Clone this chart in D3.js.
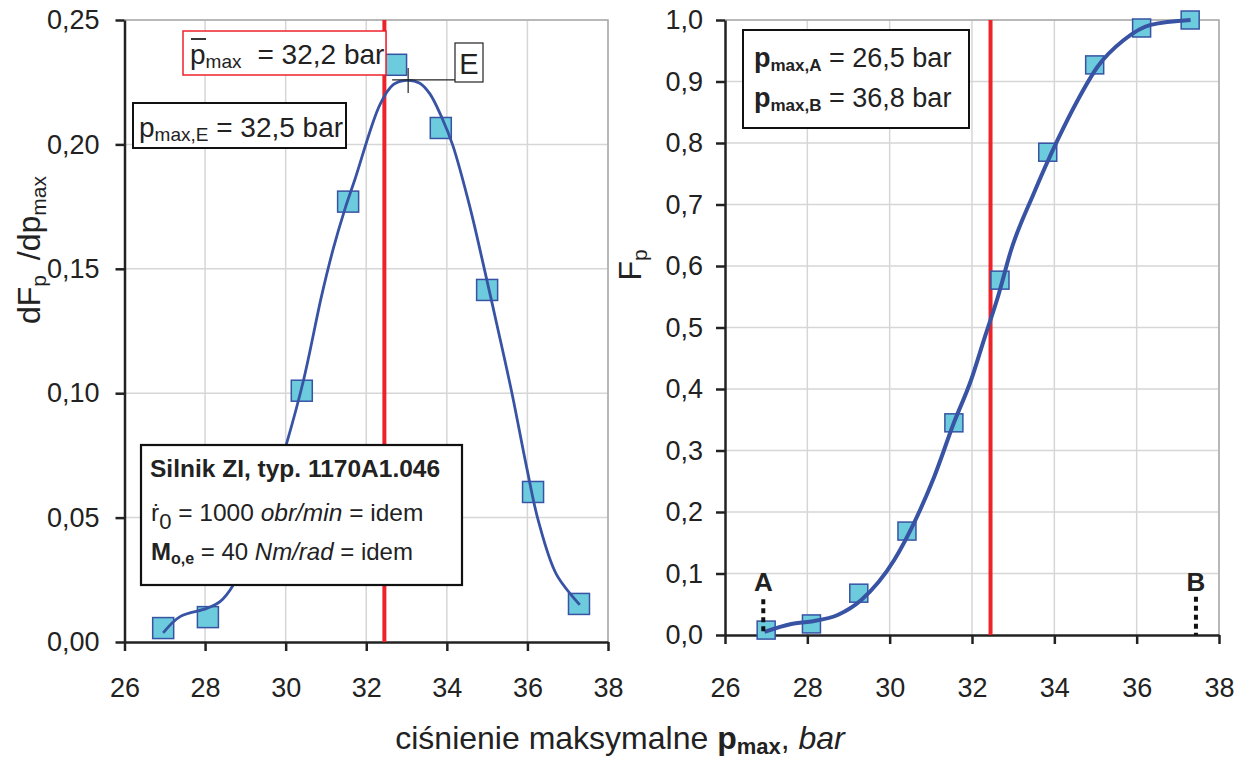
<!DOCTYPE html>
<html>
<head>
<meta charset="utf-8">
<script src="https://cdn.jsdelivr.net/npm/d3@7"></script>
<style>
  body { margin: 0; background: #fff; }
  svg { display: block; font-family: "Liberation Sans", Arial, sans-serif; }
  .axis path, .axis line { stroke: #222; stroke-width: 2.5; }
  .axis text { font-size: 27px; fill: #222; font-family: "Liberation Sans", Arial, sans-serif; }
  .grid line { stroke: #d6d6d6; stroke-width: 1.5; }
</style>
</head>
<body>
<svg id="chart" width="1248" height="760"></svg>
<script>
// measured points, left panel (density)
const pDens = [26.96, 28.07, 29.25, 30.4, 31.55, 32.74, 33.85, 35.0, 36.14, 37.28];
const dens = [0.0056, 0.010, 0.042, 0.101, 0.177, 0.232, 0.2066, 0.1415, 0.0603, 0.0153];

// fitted density curve
const pDensFit = [26.96, 27.38, 28.04, 28.37, 28.70, 29.3, 29.7, 30.0, 30.44, 30.89, 31.18, 31.47, 31.72, 32.34, 32.67, 33.0, 33.33, 33.58, 33.87, 34.15, 34.57, 34.86, 35.24, 35.61, 35.98, 36.27, 36.72, 37.3];
const densFit = [0.0037, 0.0102, 0.0135, 0.0162, 0.0229, 0.045, 0.063, 0.0785, 0.105, 0.139, 0.158, 0.174, 0.186, 0.216, 0.224, 0.2257, 0.2246, 0.2203, 0.211, 0.1995, 0.175, 0.155, 0.1277, 0.1005, 0.0703, 0.0488, 0.0272, 0.015];

// measured points, right panel (distribution)
const pCum = [27.0, 28.1, 29.25, 30.42, 31.56, 32.68, 33.84, 34.98, 36.12, 37.3];
const cum = [0.008, 0.018, 0.068, 0.169, 0.345, 0.577, 0.785, 0.927, 0.987, 1.0];

// fitted distribution curve
const pCumFit = [26.96, 27.61, 28.10, 28.75, 29.31, 30.11, 30.59, 31.08, 31.56, 31.98, 32.29, 32.63, 32.95, 33.50, 34.08, 34.57, 35.05, 35.68, 36.34, 37.31];
const cumFit = [0.005, 0.018, 0.022, 0.033, 0.057, 0.122, 0.182, 0.257, 0.345, 0.415, 0.480, 0.550, 0.626, 0.718, 0.805, 0.870, 0.924, 0.967, 0.992, 1.0];

const xTicks = [26, 28, 30, 32, 34, 36, 38];
const densTicks = [0, 0.05, 0.10, 0.15, 0.20, 0.25];
const cumTicks = [0, 0.1, 0.2, 0.3, 0.4, 0.5, 0.6, 0.7, 0.8, 0.9, 1.0];

const pMean = 32.45;     // red vertical line
const peakE = [33.04, 0.2259];
const pointA = 26.93, pointB = 37.44;

const svg = d3.select("#chart");
const blue = "#3853a4", fillSq = "#6ccbdc", red = "#ee2229";
const comma = f => d => d3.format(f)(d).replace(".", ",");

function panel(opts) {
  const x = d3.scaleLinear().domain([26, 38]).range(opts.xr);
  const y = d3.scaleLinear().domain(opts.yd).range(opts.yr);
  const g = svg.append("g");

  // grid
  const grid = g.append("g").attr("class", "grid");
  grid.selectAll(".gx").data(xTicks.slice(1)).enter().append("line")
    .attr("x1", d => x(d)).attr("x2", d => x(d))
    .attr("y1", y.range()[0]).attr("y2", y.range()[1]);
  grid.selectAll(".gy").data(opts.ticks.slice(1)).enter().append("line")
    .attr("x1", x.range()[0]).attr("x2", x.range()[1])
    .attr("y1", d => y(d)).attr("y2", d => y(d));
  g.append("path")
    .attr("d", `M${x(26)},${y(opts.yd[1])}H${x(38)}V${y(0)}`)
    .attr("fill", "none").attr("stroke", "#aaa").attr("stroke-width", 1.5);

  // axes
  g.append("g").attr("class", "axis")
    .attr("transform", `translate(0,${y(0)})`)
    .call(d3.axisBottom(x).tickValues(xTicks).tickSize(9).tickSizeOuter(0).tickPadding(opts.xpad));
  g.append("g").attr("class", "axis")
    .attr("transform", `translate(${x(26)},0)`)
    .call(d3.axisLeft(y).tickValues(opts.ticks).tickFormat(comma(opts.fmt)).tickSize(9).tickSizeOuter(0).tickPadding(opts.ypad));

  // red line
  g.append("line")
    .attr("x1", x(pMean)).attr("x2", x(pMean))
    .attr("y1", y(0)).attr("y2", y(opts.yd[1]))
    .attr("stroke", red).attr("stroke-width", 4);

  return { g, x, y };
}

// ---------- left panel ----------
const L = panel({ xr: [124.5, 608], yd: [0, 0.25], yr: [642, 20], ticks: densTicks, fmt: ".2f", xpad: 27, ypad: 16 });

L.g.selectAll(".sq").data(d3.zip(pDens, dens)).enter().append("rect")
  .attr("x", d => L.x(d[0]) - 10.5).attr("y", d => L.y(d[1]) - 10.5)
  .attr("width", 21).attr("height", 21)
  .attr("fill", fillSq).attr("stroke", blue).attr("stroke-width", 1.5);

L.g.append("path")
  .datum(d3.zip(pDensFit, densFit))
  .attr("fill", "none").attr("stroke", blue).attr("stroke-width", 2.8)
  .attr("d", d3.line().x(d => L.x(d[0])).y(d => L.y(d[1])).curve(d3.curveCatmullRom));

// E marker
const ex = L.x(peakE[0]), ey = L.y(peakE[1]);
L.g.append("line").attr("x1", ex - 16).attr("x2", 455).attr("y1", ey).attr("y2", ey).attr("stroke", "#222").attr("stroke-width", 1.2);
L.g.append("line").attr("x1", ex).attr("x2", ex).attr("y1", ey - 12).attr("y2", ey + 13).attr("stroke", "#222").attr("stroke-width", 1.2);
L.g.append("rect").attr("x", 455).attr("y", 43).attr("width", 28).attr("height", 39)
  .attr("fill", "#fff").attr("stroke", "#222").attr("stroke-width", 1.2);
L.g.append("text").attr("x", 469).attr("y", 74).attr("text-anchor", "middle")
  .attr("font-size", 29).attr("fill", "#222").text("E");

// mean box (red)
L.g.append("rect").attr("x", 183).attr("y", 31).attr("width", 203).attr("height", 44)
  .attr("fill", "#fff").attr("stroke", red).attr("stroke-width", 1.5);
const tm = L.g.append("text").attr("x", 190).attr("y", 64).attr("font-size", 28).attr("fill", "#222");
tm.append("tspan").text("p");
tm.append("tspan").attr("font-size", 19).attr("dy", 4).text("max");
tm.append("tspan").attr("dy", -4).attr("dx", 16).text("= 32,2 bar");
L.g.append("line").attr("x1", 191).attr("x2", 206).attr("y1", 39).attr("y2", 39).attr("stroke", "#222").attr("stroke-width", 1.8);

// pmax,E box
L.g.append("rect").attr("x", 133).attr("y", 103).attr("width", 213).attr("height", 45)
  .attr("fill", "#fff").attr("stroke", "#111").attr("stroke-width", 2);
const te = L.g.append("text").attr("x", 139).attr("y", 137).attr("font-size", 28).attr("fill", "#222");
te.append("tspan").text("p");
te.append("tspan").attr("font-size", 19).attr("dy", 4).text("max,E");
te.append("tspan").attr("dy", -4).text(" = 32,5 bar");

// info box
L.g.append("rect").attr("x", 141).attr("y", 445).attr("width", 321).attr("height", 140)
  .attr("fill", "#fff").attr("stroke", "#111").attr("stroke-width", 2.2);
L.g.append("text").attr("x", 150).attr("y", 477).attr("font-size", 24.5).attr("font-weight", "bold").attr("fill", "#222")
  .text("Silnik ZI, typ. 1170A1.046");
const t2 = L.g.append("text").attr("x", 151).attr("y", 521).attr("font-size", 24.5).attr("fill", "#222");
t2.append("tspan").text("ṙ");
t2.append("tspan").attr("font-size", 22).attr("dy", 8).text("0");
t2.append("tspan").attr("dy", -8).text("  = 1000 ");
t2.append("tspan").attr("font-style", "italic").text("obr/min");
t2.append("tspan").text(" = idem");
const t3 = L.g.append("text").attr("x", 151).attr("y", 560).attr("font-size", 24).attr("fill", "#222");
t3.append("tspan").attr("font-weight", "bold").text("M");
t3.append("tspan").attr("font-weight", "bold").attr("font-size", 16).attr("dy", 4).text("o,e");
t3.append("tspan").attr("dy", -4).text(" = 40 ");
t3.append("tspan").attr("font-style", "italic").text("Nm/rad");
t3.append("tspan").text(" = idem");

// left y label
const ly = svg.append("text").attr("transform", "translate(40,250) rotate(-90)")
  .attr("text-anchor", "middle").attr("font-size", 32).attr("fill", "#222");
ly.append("tspan").text("dF");
ly.append("tspan").attr("font-size", 21).attr("dy", 6).text("p");
ly.append("tspan").attr("dy", -6).attr("dx", 6).text(" /dp");
ly.append("tspan").attr("font-size", 21).attr("dy", 6).text("max");

// ---------- right panel ----------
const R = panel({ xr: [725, 1219], yd: [0, 1], yr: [635, 20], ticks: cumTicks, fmt: ".1f", xpad: 34, ypad: 13 });

R.g.selectAll(".sq").data(d3.zip(pCum, cum)).enter().append("rect")
  .attr("x", d => R.x(d[0]) - 9).attr("y", d => R.y(d[1]) - 9)
  .attr("width", 18).attr("height", 18)
  .attr("fill", fillSq).attr("stroke", blue).attr("stroke-width", 1.5);

R.g.append("path")
  .datum(d3.zip(pCumFit, cumFit))
  .attr("fill", "none").attr("stroke", blue).attr("stroke-width", 4)
  .attr("d", d3.line().x(d => R.x(d[0])).y(d => R.y(d[1])).curve(d3.curveMonotoneX));

// A / B markers
[[pointA, "A", 0.058], [pointB, "B", 0.062]].forEach(([p, lab, top]) => {
  R.g.append("line").attr("x1", R.x(p)).attr("x2", R.x(p))
    .attr("y1", R.y(top)).attr("y2", R.y(0))
    .attr("stroke", "#111").attr("stroke-width", 4).attr("stroke-dasharray", "5,4");
  R.g.append("text").attr("x", R.x(p)).attr("y", 591).attr("text-anchor", "middle")
    .attr("font-size", 26).attr("font-weight", "bold").attr("fill", "#222").text(lab);
});

// A/B box
R.g.append("rect").attr("x", 743).attr("y", 30).attr("width", 226).attr("height", 98)
  .attr("fill", "#fff").attr("stroke", "#111").attr("stroke-width", 2);
[["A", "26,5", 67], ["B", "36,8", 107]].forEach(([s, v, yy]) => {
  const t = R.g.append("text").attr("x", 754).attr("y", yy).attr("font-size", 27).attr("fill", "#222");
  t.append("tspan").attr("font-weight", "bold").text("p");
  t.append("tspan").attr("font-weight", "bold").attr("font-size", 17).attr("dy", 4).text("max," + s);
  t.append("tspan").attr("dy", -4).text(" = " + v + " bar");
});

// right y label
const ry = svg.append("text").attr("transform", "translate(641,265) rotate(-90)")
  .attr("text-anchor", "middle").attr("font-size", 32).attr("fill", "#222");
ry.append("tspan").text("F");
ry.append("tspan").attr("font-size", 21).attr("dy", 6).text("p");

// x label
const xl = svg.append("text").attr("x", 620).attr("y", 749).attr("text-anchor", "middle")
  .attr("font-size", 32).attr("fill", "#222");
xl.append("tspan").text("ciśnienie maksymalne ");
xl.append("tspan").attr("font-weight", "bold").text("p");
xl.append("tspan").attr("font-weight", "bold").attr("font-size", 22).attr("dy", 5).text("max");
xl.append("tspan").attr("dy", -5).text(", ");
xl.append("tspan").attr("font-style", "italic").text("bar");
</script>
</body>
</html>
